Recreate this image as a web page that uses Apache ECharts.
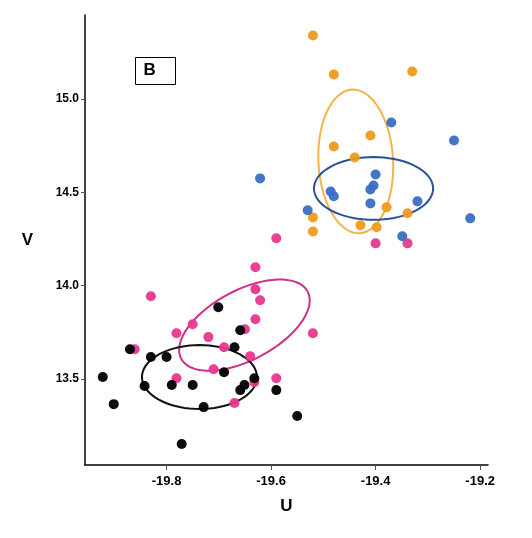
<!DOCTYPE html><html><head><meta charset="utf-8">
<script src="https://cdn.jsdelivr.net/npm/echarts@6/dist/echarts.min.js"></script>
<style>html,body{margin:0;padding:0;background:#fff}#c{width:532px;height:538px}</style></head><body><div id="c"></div>
<script>
const xTicks=[-19.8,-19.6,-19.4,-19.2];
const yTicks=[13.5,14.0,14.5,15.0];
const blackPts=[[-19.922,13.511],[-19.901,13.366],[-19.870,13.660],[-19.830,13.618],[-19.800,13.618],[-19.842,13.463],[-19.790,13.468],[-19.750,13.468],[-19.729,13.350],[-19.771,13.152],[-19.701,13.885],[-19.659,13.762],[-19.670,13.671],[-19.690,13.537],[-19.632,13.505],[-19.659,13.441],[-19.651,13.468],[-19.590,13.441],[-19.550,13.302]];
const pinkPts=[[-19.830,13.944],[-19.861,13.660],[-19.781,13.746],[-19.750,13.794],[-19.720,13.725],[-19.690,13.671],[-19.630,14.099],[-19.630,13.981],[-19.621,13.922],[-19.630,13.821],[-19.650,13.767],[-19.640,13.623],[-19.710,13.553],[-19.781,13.505],[-19.670,13.372],[-19.632,13.484],[-19.590,13.505],[-19.520,13.746],[-19.590,14.254],[-19.400,14.227],[-19.339,14.227]];
const orangePts=[[-19.520,15.340],[-19.480,15.131],[-19.330,15.147],[-19.410,14.805],[-19.480,14.746],[-19.440,14.687],[-19.379,14.420],[-19.339,14.388],[-19.520,14.366],[-19.520,14.291],[-19.429,14.324],[-19.398,14.313]];
const bluePts=[[-19.621,14.575],[-19.370,14.874],[-19.250,14.778],[-19.400,14.596],[-19.404,14.537],[-19.410,14.516],[-19.486,14.505],[-19.480,14.479],[-19.410,14.441],[-19.320,14.452],[-19.530,14.404],[-19.219,14.361],[-19.349,14.265]];
// ellipses: center U, center V, semi-axis along U (data units), semi-axis along V (data units), screen rotation deg
const ellipseCenters=[[-19.438,14.666],[-19.404,14.521],[-19.651,13.789],[-19.737,13.511]];
const ellipseRadii=[[0.0714,0.385],[0.114,0.168],[0.137,0.187],[0.110,0.171]];
const ellipseAngles=[-3,0,-28,0];
const ellipseColors=['#f2b44c','#2b5298','#cf2f88','#111'];

const chart=echarts.init(document.getElementById('c'));
function sc(name,data,color){return {type:'scatter',name,data,symbolSize:10,itemStyle:{color,opacity:0.95},z:3};}
chart.setOption({
  animation:false,
  grid:{left:85,right:44,top:15,bottom:73},
  xAxis:{type:'value',min:-19.956,max:-19.185,name:'U',nameLocation:'middle',nameGap:33,
    nameTextStyle:{fontFamily:'Liberation Sans',fontWeight:'bold',fontSize:17,color:'#000'},
    axisLine:{lineStyle:{color:'#000',width:1.5}},splitLine:{show:false},
    axisTick:{customValues:xTicks,length:5,lineStyle:{color:'#555'}},
    axisLabel:{customValues:xTicks,fontFamily:'Liberation Sans',fontWeight:'bold',fontSize:13,color:'#000',margin:10,formatter:v=>v.toFixed(1)}},
  yAxis:{type:'value',min:13.04,max:15.45,name:'V',nameLocation:'middle',nameGap:52,nameRotate:0,
    nameTextStyle:{fontFamily:'Liberation Sans',fontWeight:'bold',fontSize:17,color:'#000'},
    axisLine:{show:true,lineStyle:{color:'#000',width:1.5}},splitLine:{show:false},
    axisTick:{customValues:yTicks,length:4,lineStyle:{color:'#555'}},
    axisLabel:{customValues:yTicks,fontFamily:'Liberation Sans',fontWeight:'bold',fontSize:12,color:'#000',margin:6,formatter:v=>v.toFixed(1)}},
  graphic:[{type:'group',left:135,top:57,children:[
    {type:'rect',shape:{x:0,y:0,width:40,height:27},style:{fill:'#fff',stroke:'#000',lineWidth:1}},
    {type:'text',x:8,y:4,style:{text:'B',font:'bold 17px Liberation Sans',fill:'#000'}}]}],
  series:[
    sc('pink',pinkPts,'#e8388f'),sc('black',blackPts,'#000'),sc('orange',orangePts,'#f09a1a'),sc('blue',bluePts,'#3a6ec4'),
    {type:'custom',data:ellipseCenters.map((c,i)=>[c[0],c[1],i]),z:2,
      renderItem:(params,api)=>{
        const i=api.value(2);const c=api.coord([api.value(0),api.value(1)]);
        const r=ellipseRadii[i];const s=api.size([r[0],r[1]]);
        const a=ellipseAngles[i]*Math.PI/180;const pts=[];
        for(let k=0;k<=72;k++){const t=k/72*2*Math.PI;const x=s[0]*Math.cos(t),y=s[1]*Math.sin(t);
          pts.push([c[0]+x*Math.cos(a)-y*Math.sin(a),c[1]+x*Math.sin(a)+y*Math.cos(a)]);}
        return {type:'polyline',shape:{points:pts},style:{stroke:ellipseColors[i],lineWidth:2,fill:null}};
      }}
  ]
});
</script></body></html>
